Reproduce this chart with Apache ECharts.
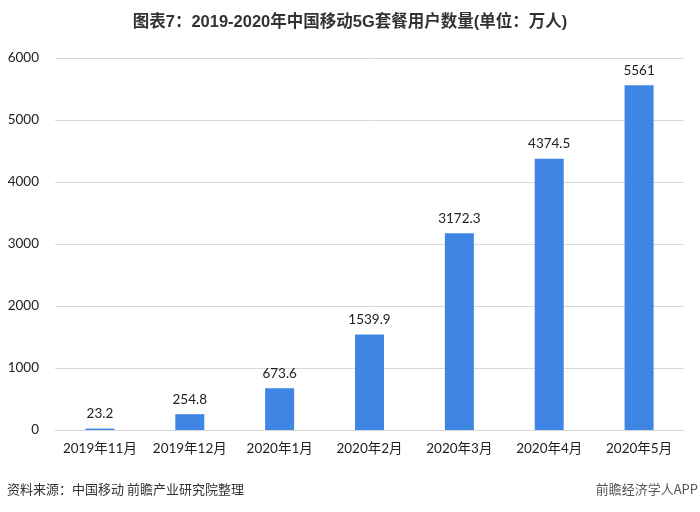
<!DOCTYPE html>
<html><head><meta charset="utf-8">
<script src="https://cdn.jsdelivr.net/npm/echarts@6/dist/echarts.min.js"></script>
<style>html,body{margin:0;padding:0;background:#fff}#c{width:700px;height:512px}</style>
</head><body><div id="c"></div>
<script>
const categories = ['2019年11月','2019年12月','2020年1月','2020年2月','2020年3月','2020年4月','2020年5月'];
const values = [23.2, 254.8, 673.6, 1539.9, 3172.3, 4374.5, 5561];
const valueLabels = ['23.2','254.8','673.6','1539.9','3172.3','4374.5','5561'];
const yTicks = [0,1000,2000,3000,4000,5000,6000];

const chart = echarts.init(document.getElementById('c'));
const font = 'Lato, "Noto Sans CJK SC", sans-serif';
chart.setOption({
  animation: false,
  backgroundColor: '#fff',
  title: {
    text: '图表7：2019-2020年中国移动5G套餐用户数量(单位：万人)',
    left: 'center', top: 9,
    textStyle: {fontSize: 16.5, fontWeight: 'bold', color: '#333', fontFamily: 'Arial, "Noto Sans CJK SC", sans-serif'}
  },
  graphic: [
    {type:'text', left: 7, top: 483, style:{text:'资料来源：中国移动 前瞻产业研究院整理', fontSize: 13, fill:'#333', fontFamily: '"Noto Sans CJK SC", sans-serif'}},
    {type:'text', right: 2, top: 483, style:{text:'前瞻经济学人APP', fontSize: 13, fill:'#555', fontFamily: '"Noto Sans CJK SC", sans-serif'}}
  ],
  grid: {left: 55, right: 16, top: 58, bottom: 82},
  xAxis: {
    type: 'category', data: categories,
    axisLine: {lineStyle: {color: '#d9d9d9'}},
    axisTick: {show: false},
    axisLabel: {color: '#222', fontSize: 13.5, margin: 12, fontFamily: font, interval: 0}
  },
  yAxis: {
    type: 'value', min: 0, max: 6000, interval: 1000,
    axisLine: {show: false}, axisTick: {show: false},
    splitLine: {lineStyle: {color: '#d9d9d9'}},
    axisLabel: {color: '#222', fontSize: 13.5, margin: 16, fontFamily: font,
      formatter: v => yTicks.includes(v) ? String(v) : ''}
  },
  series: [{
    type: 'bar', data: values, barWidth: 29,
    itemStyle: {color: '#3F85E4'},
    label: {show: true, position: 'top', distance: 8, color: '#222', fontSize: 13.5, fontFamily: font,
      formatter: p => valueLabels[p.dataIndex]}
  }]
});
</script></body></html>
